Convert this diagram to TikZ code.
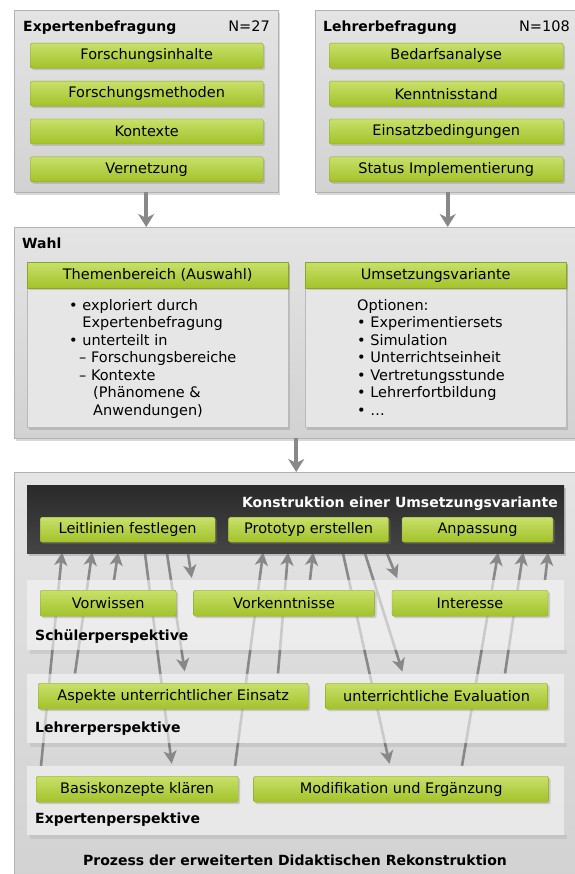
\documentclass[tikz,border=0pt]{standalone}
\usepackage{fontspec}
\setmainfont{DejaVu Sans}
\usetikzlibrary{
   arrows.meta,
   positioning,
   shadows
}
\definecolor{boxtop}{HTML}{E4E4E4}
\definecolor{boxbottom}{HTML}{D2D2D2}
\definecolor{panelgray}{HTML}{E6E6E6}
\definecolor{barlight}{HTML}{C8E06A}
\definecolor{bardark}{HTML}{A3C22A}
\definecolor{darktop}{HTML}{2A2A2A}
\definecolor{darkbottom}{HTML}{454545}
\definecolor{layergray}{HTML}{F6F6F6}
\definecolor{arrowgray}{HTML}{888888}

\pgfdeclarelayer{background}
\pgfdeclarelayer{flows}
\pgfsetlayers{background,flows,main}

\begin{document}
\begin{tikzpicture}[
    x=1pt, y=-1pt,
    font=\fontsize{14.5}{17.5}\selectfont,
    node distance=12.5pt,
    outer/.style={rectangle, draw=gray!60, top color=boxtop, bottom color=boxbottom, anchor=north west, inner sep=0pt, drop shadow={shadow xshift=2pt, shadow yshift=-3pt, opacity=0.3}},
    panel/.style={rectangle, draw=gray!55, fill=panelgray, anchor=north west, inner sep=0pt, minimum width=261pt, minimum height=165pt, drop shadow={shadow xshift=2pt, shadow yshift=-3pt, opacity=0.3}},
    bar/.style={rectangle, rounded corners=1.5pt, draw=bardark!85!black, top color=barlight, bottom color=bardark, minimum height=25pt, inner sep=0pt, drop shadow={shadow xshift=2pt, shadow yshift=-2pt, opacity=0.3}},
    darkbox/.style={rectangle, top color=darktop, bottom color=darkbottom, anchor=north west, inner sep=0pt, drop shadow={shadow xshift=2pt, shadow yshift=-3pt, opacity=0.35}},
    layer/.style={rectangle, fill=layergray, fill opacity=0.6, anchor=north west, inner sep=0pt, minimum width=537pt},
    head/.style={font=\fontsize{14}{17}\selectfont\bfseries, anchor=base west, inner sep=0pt},
    plain/.style={anchor=base west, inner sep=0pt},
    listtext/.style={anchor=north west, align=left, inner sep=0pt},
    toparrow/.style={-{Stealth[length=13pt, width=16pt, inset=4pt]}, line width=4pt, draw=arrowgray},
    flow/.style={-{Stealth[length=13pt, width=13pt, inset=3.5pt]}, line width=2.6pt, draw=arrowgray}
]
\useasboundingbox (0,0) rectangle (574,874);

\begin{pgfonlayer}{background}
\fill[white] (0,0) rectangle (574,874);
\node[outer, minimum width=564pt, minimum height=410pt] (prozess) at (14,472) {};
\end{pgfonlayer}

% surveys
\node[outer, minimum width=264pt, minimum height=182pt] (eb) at (14,10) {};
\node[head] (ebtitle) at (23,32) {Expertenbefragung};
\node[plain, anchor=base east] (ebn) at (270,32) {N=27};
\node[bar, minimum width=233pt, anchor=north west] (eb1) at (30,43) {Forschungsinhalte};
\node[bar, minimum width=233pt, below=of eb1] (eb2) {Forschungsmethoden};
\node[bar, minimum width=233pt, below=of eb2] (eb3) {Kontexte};
\node[bar, minimum width=233pt, below=of eb3] (eb4) {Vernetzung};

\node[outer, minimum width=265pt, minimum height=182pt] (lb) at (315,10) {};
\node[head] (lbtitle) at (323,32) {Lehrerbefragung};
\node[plain, anchor=base east] (lbn) at (570,32) {N=108};
\node[bar, minimum width=234pt, anchor=north west] (lb1) at (329,43) {Bedarfsanalyse};
\node[bar, minimum width=234pt, below=of lb1] (lb2) {Kenntnisstand};
\node[bar, minimum width=234pt, below=of lb2] (lb3) {Einsatzbedingungen};
\node[bar, minimum width=234pt, below=of lb3] (lb4) {Status Implementierung};

% choice
\node[outer, minimum width=564pt, minimum height=211pt] (wahl) at (14,227) {};
\node[head] (wahltitle) at (22,249) {Wahl};

\node[panel] (thema) at (27,262) {};
\node[bar, rounded corners=0pt, minimum width=261pt, minimum height=26pt, anchor=north] (themahead) at (thema.north) {Themenbereich (Auswahl)};
\node[listtext] (thematext) at (69,299) {\textbullet\ exploriert durch\\
\hphantom{\textbullet\ }Expertenbefragung\\
\textbullet\ unterteilt in\\
\hspace*{10pt}–\ Forschungsbereiche\\
\hspace*{10pt}–\ Kontexte\\
\hspace*{24pt}(Phänomene \&\\
\hspace*{24pt}Anwendungen)};

\node[panel] (umsetz) at (305,262) {};
\node[bar, rounded corners=0pt, minimum width=261pt, minimum height=26pt, anchor=north] (umsetzhead) at (umsetz.north) {Umsetzungsvariante};
\node[listtext] (umsetztext) at (357,299) {Optionen:\\
\textbullet\ Experimentiersets\\
\textbullet\ Simulation\\
\textbullet\ Unterrichtseinheit\\
\textbullet\ Vertretungsstunde\\
\textbullet\ Lehrerfortbildung\\
\textbullet\ …};

\draw[toparrow] (eb.south) -- (eb.south |- wahl.north);
\draw[toparrow] (lb.south) -- (lb.south |- wahl.north);
\draw[toparrow] (wahl.south) -- (wahl.south |- prozess.north);

% construction
\node[darkbox, minimum width=537pt, minimum height=68pt] (konstr) at (27,485) {};
\node[head, text=white, anchor=base east] (konstrtitle) at (558,507) {Konstruktion einer Umsetzungsvariante};
\node[bar, minimum width=175pt, anchor=north west] (leit) at (40,517) {Leitlinien festlegen};
\node[bar, minimum width=160pt, right=13pt of leit] (proto) {Prototyp erstellen};
\node[bar, minimum width=151pt, right=13pt of proto] (anpass) {Anpassung};

% perspectives
\node[layer, minimum height=70pt] (schueler) at (27,580) {};
\node[layer, minimum height=69pt, below=23pt of schueler] (lehrer) {};
\node[layer, minimum height=69pt, below=23pt of lehrer] (experten) {};
\foreach \n in {schueler,lehrer,experten}
  \fill[black, opacity=0.07] ([xshift=3pt]\n.south west) rectangle ([xshift=3pt, yshift=-4pt]\n.south east);

\node[bar, minimum width=136pt, minimum height=26pt, anchor=north west] (vorwissen) at (40,590) {Vorwissen};
\node[bar, minimum width=181pt, minimum height=26pt, right=17pt of vorwissen] (vorkennt) {Vorkenntnisse};
\node[bar, minimum width=156pt, minimum height=26pt, right=17pt of vorkennt] (interesse) {Interesse};
\node[head] (schuelerlbl) at (35,640) {Schülerperspektive};

\node[bar, minimum width=270pt, minimum height=26pt, anchor=north west] (aspekte) at (38,683) {Aspekte unterrichtlicher Einsatz};
\node[bar, minimum width=222pt, minimum height=26pt, right=17pt of aspekte] (evaluation) {unterrichtliche Evaluation};
\node[head] (lehrerlbl) at (35,732) {Lehrerperspektive};

\node[bar, minimum width=202pt, minimum height=26pt, anchor=north west] (basis) at (36,776) {Basiskonzepte klären};
\node[bar, minimum width=295pt, minimum height=26pt, right=15pt of basis] (modif) {Modifikation und Ergänzung};
\node[head] (expertenlbl) at (35,823) {Expertenperspektive};

\node[head, anchor=base] (prozesstitle) at (295,865) {Prozess der erweiterten Didaktischen Rekonstruktion};

\begin{pgfonlayer}{flows}
\foreach \src/\xa/\xb in {experten/41/62, lehrer/75/92, schueler/114/118, experten/235/263, lehrer/278/288, schueler/310/313, experten/462/498, lehrer/505/523, schueler/545/548}
  \draw[flow, shorten >=-1pt] (\src.north -| \xa,0) -- (konstr.south -| \xb,0);
\foreach \xa/\dst/\xb in {145/experten/172, 167/lehrer/185, 188/schueler/192, 343/experten/390, 365/lehrer/403, 387/schueler/398}
  \draw[flow, shorten >=2pt] (konstr.south -| \xa,0) -- (\dst.north -| \xb,0);
\end{pgfonlayer}

\end{tikzpicture}
\end{document}
